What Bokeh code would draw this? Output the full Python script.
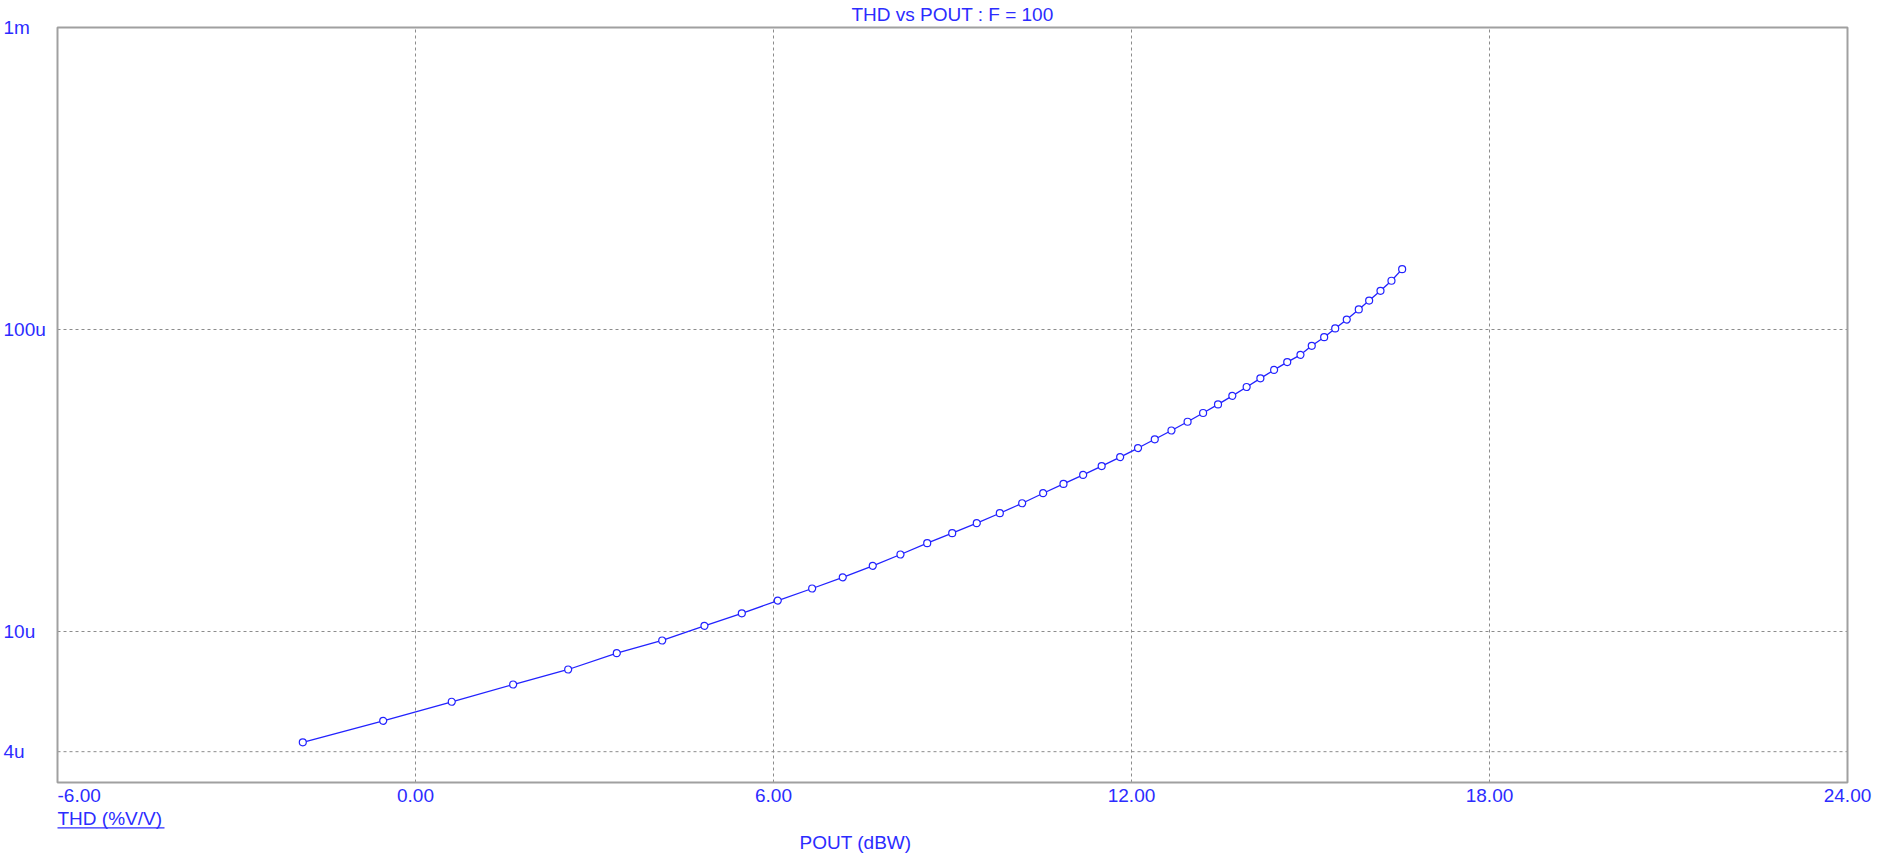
from bokeh.plotting import figure
from bokeh.models import Range1d, Label
from bokeh.embed import file_html
from bokeh.resources import INLINE

# ---- data ----
pout_dbw = [-1.889, -0.541, 0.608, 1.637, 2.559, 3.374, 4.135, 4.843, 5.469, 6.072,
            6.648, 7.161, 7.664, 8.128, 8.576, 8.995, 9.407, 9.793, 10.168,
            10.52, 10.86, 11.19, 11.50, 11.81, 12.11, 12.39, 12.67, 12.94, 13.20,
            13.45, 13.69, 13.93, 14.16, 14.39, 14.61,
            14.832, 15.021, 15.229, 15.414, 15.608, 15.809, 15.983, 16.173, 16.357, 16.536]
thd_vv = [4.297e-6, 5.062e-6, 5.852e-6, 6.675e-6, 7.485e-6, 8.477e-6, 9.338e-6, 10.44e-6,
          11.49e-6, 12.66e-6, 13.88e-6, 15.12e-6, 16.50e-6, 17.99e-6, 19.61e-6, 21.16e-6,
          22.84e-6, 24.64e-6, 26.59e-6,
          28.7e-6, 30.8e-6, 33.0e-6, 35.3e-6, 37.8e-6, 40.5e-6, 43.3e-6, 46.3e-6, 49.5e-6,
          52.9e-6, 56.5e-6, 60.3e-6, 64.5e-6, 68.9e-6, 73.5e-6, 78.0e-6,
          82.44e-6, 88.3e-6, 94.3e-6, 100.8e-6, 107.9e-6, 116.5e-6, 124.7e-6, 134.3e-6,
          145.0e-6, 158.4e-6]

x_ticks = [-6, 0, 6, 12, 18, 24]
x_tick_labels = ["-6.00", "0.00", "6.00", "12.00", "18.00", "24.00"]
y_ticks = [4e-6, 10e-6, 100e-6, 1e-3]
y_tick_labels = ["4u", "10u", "100u", "1m"]
title_text = "THD vs POUT : F = 100"
x_title = "POUT (dBW)"
y_title = "THD (%V/V)"

# ---- layout / styling ----
W, H = 1883, 857
FL, FT, FR, FB = 57, 27, 1847, 782          # plot box in page pixels
BLUE_TXT = "#2c2cff"
BLUE_LINE = "#2222ff"
GRID = "#8c8c8c"
FONT = "Liberation Sans"
FS = "19px"
X0, X1 = -6, 24
LY0, LY1 = -5.5, -3.0
Y0, Y1 = 10 ** LY0, 10 ** LY1
ppu = (FR - FL) / (X1 - X0)
ppd = (FB - FT) / (LY1 - LY0)

p = figure(width=W, height=H,
           x_range=Range1d(X0 - FL / ppu, X1 + (W - FR) / ppu),
           y_range=Range1d(10 ** (LY0 - (H - FB) / ppd), 10 ** (LY1 + FT / ppd)),
           y_axis_type="log", x_axis_location=None, y_axis_location=None,
           output_backend="svg", toolbar_location=None,
           min_border=0, min_border_left=0, min_border_right=0,
           min_border_top=0, min_border_bottom=0)
p.background_fill_color = "white"
p.border_fill_color = "white"
p.outline_line_color = None
p.grid.visible = False

# grid lines at the ticks
p.segment(x0=x_ticks, y0=[Y0] * len(x_ticks), x1=x_ticks, y1=[Y1] * len(x_ticks),
          line_color=GRID, line_dash="3 3", line_width=1)
p.segment(x0=[X0] * len(y_ticks), y0=y_ticks, x1=[X1] * len(y_ticks), y1=y_ticks,
          line_color=GRID, line_dash="3 3", line_width=1)
# plot box
p.quad(left=[X0], right=[X1], bottom=[Y0], top=[Y1], fill_color=None,
       line_color="#a0a0a0", line_width=2)

p.line(pout_dbw, thd_vv, line_color=BLUE_LINE, line_width=1.3)
p.scatter(pout_dbw, thd_vv, marker="circle", size=7, line_color=BLUE_LINE,
          line_width=1.2, fill_color="white")

def lab(x, y, text, xo=0, yo=0, align="center", base="middle"):
    p.add_layout(Label(x=x, y=y, text=text, x_offset=xo, y_offset=yo,
                       text_align=align, text_baseline=base, text_color=BLUE_TXT,
                       text_font=FONT, text_font_size=FS))

for t, s in zip(x_ticks, x_tick_labels):
    lab(t, Y0, s, yo=-13, align="left" if t == X0 else "center")
for t, s in zip(y_ticks, y_tick_labels):
    lab(X0, t, s, xo=-54, align="left")

lab((X0 + X1) / 2, Y1, title_text, yo=13)
lab(X0 + (855 - FL) / ppu, Y0, x_title, yo=-60)
lab(X0, Y0, y_title, yo=-36, align="left")

# underline of the y-series name
def ybelow(px):
    return 10 ** (LY0 - px / ppd)
p.segment(x0=[X0], y0=[ybelow(45.3)], x1=[X0 + 107 / ppu], y1=[ybelow(45.3)],
          line_color=BLUE_TXT, line_width=1.3)

open("out.html", "w").write(file_html(p, INLINE))
